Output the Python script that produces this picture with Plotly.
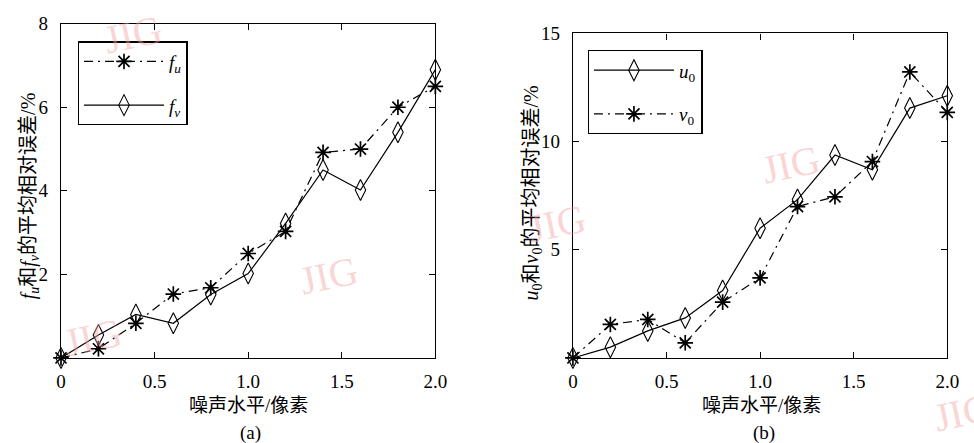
import plotly.graph_objects as go

x = [0, 0.2, 0.4, 0.6, 0.8, 1.0, 1.2, 1.4, 1.6, 1.8, 2.0]
fu = [0, 0.22, 0.83, 1.53, 1.68, 2.5, 3.03, 4.92, 5.0, 6.0, 6.5]
fv = [0, 0.55, 1.04, 0.83, 1.52, 2.02, 3.22, 4.5, 4.02, 5.4, 6.9]
u0 = [0, 0.5, 1.25, 1.85, 3.12, 6.0, 7.32, 9.38, 8.7, 11.55, 12.12]
v0 = [0, 1.55, 1.78, 0.7, 2.58, 3.7, 7.0, 7.45, 9.08, 13.22, 11.35]

xticks = [0, 0.5, 1.0, 1.5, 2.0]
xticktext = ["0", "0.5", "1.0", "1.5", "2.0"]
yticks_a = [0, 2, 4, 6, 8]
yticktext_a = ["", "2", "4", "6", "8"]
yticks_b = [0, 5, 10, 15]
yticktext_b = ["", "5", "10", "15"]

W, H = 974, 443
serif = "Liberation Serif, Times New Roman, serif"
cjk = "Liberation Serif, Noto Sans CJK SC, serif"
DASHDOT = "9px,5px,2px,5px"

fig = go.Figure()

def star_trace(xs, ys, name, xa, ya, legend, grp):
    return go.Scatter(x=xs, y=ys, name=name, xaxis=xa, yaxis=ya, legend=legend,
                      legendgroup=grp, mode="lines+markers", cliponaxis=False,
                      line=dict(color="black", width=1.2, dash=DASHDOT),
                      marker=dict(symbol="asterisk-open", size=13, color="black",
                                  line=dict(color="black", width=1.7)))

def diam_trace(xs, ys, name, xa, ya, legend, grp):
    return go.Scatter(x=xs, y=ys, name=name, xaxis=xa, yaxis=ya, legend=legend,
                      legendgroup=grp, mode="lines+markers", cliponaxis=False,
                      line=dict(color="black", width=1.2),
                      marker=dict(symbol="diamond-tall-open", size=15, color="black",
                                  line=dict(color="black", width=1.1)))

fig.add_trace(star_trace(x, fu, "<i>f<sub>u</sub></i>", "x", "y", "legend", "a1"))
fig.add_trace(diam_trace(x, fv, "<i>f<sub>v</sub></i>", "x", "y", "legend", "a2"))
fig.add_trace(diam_trace(x, u0, "<i>u</i><sub>0</sub>", "x2", "y2", "legend2", "b1"))
fig.add_trace(star_trace(x, v0, "<i>v</i><sub>0</sub>", "x2", "y2", "legend2", "b2"))

def px_x(p):
    return p / W

def px_y(p):
    return (H - p) / H

axis_common = dict(showline=True, linecolor="black", linewidth=1.3, mirror="ticks",
                   ticks="inside", ticklen=6, tickwidth=1.2, tickcolor="black",
                   showgrid=False, zeroline=False,
                   tickfont=dict(family=serif, size=19, color="black"))

legend_common = dict(xanchor="left", yanchor="top", bgcolor="white",
                     bordercolor="black", borderwidth=1.3,
                     font=dict(family=serif, size=19, color="black"),
                     itemwidth=80, traceorder="grouped", tracegroupgap=16)

fig.update_layout(
    width=W, height=H, margin=dict(l=0, r=0, t=0, b=0),
    paper_bgcolor="white", plot_bgcolor="white", showlegend=True,
    xaxis=dict(domain=[px_x(57), px_x(438)], range=[0, 2], anchor="y",
               tickvals=xticks, ticktext=xticktext, ticklabelstandoff=6, **axis_common),
    yaxis=dict(domain=[px_y(356), px_y(14)], range=[0, 8], anchor="x",
               tickvals=yticks_a, ticktext=yticktext_a, ticklabelstandoff=8, **axis_common),
    xaxis2=dict(domain=[px_x(578), px_x(959)], range=[0, 2], anchor="y2",
                tickvals=xticks, ticktext=xticktext, ticklabelstandoff=6, **axis_common),
    yaxis2=dict(domain=[px_y(356), px_y(24)], range=[0, 15], anchor="x2",
                tickvals=yticks_b, ticktext=yticktext_b, ticklabelstandoff=8, **axis_common),
    legend=dict(x=px_x(74), y=px_y(32), **legend_common),
    legend2=dict(x=px_x(593), y=px_y(41), **legend_common),
)

def note(text, px, py, size=19, family=cjk, angle=0, color="black"):
    return dict(text=text, x=px_x(px), y=px_y(py), xref="paper", yref="paper",
                xanchor="center", yanchor="middle", showarrow=False, textangle=angle,
                font=dict(family=family, size=size, color=color))

ann = []
ann.append(note("噪声水平/像素", 248, 405))
ann.append(note("噪声水平/像素", 770, 405))
ann.append(note("(a)", 250, 433, family=serif))
ann.append(note("(b)", 772, 433, family=serif))
ann.append(note("<i>f</i><sub><i>u</i></sub>和<i>f</i><sub><i>v</i></sub>的平均相对误差/%",
                25, 190, size=20, angle=-90))
ann.append(note("<i>u</i><sub>0</sub>和<i>v</i><sub>0</sub>的平均相对误差/%",
                537, 187, size=20, angle=-90))
for (wx, wy) in [(130, 25), (330, 272), (90, 335), (800, 158), (562, 218), (975, 412)]:
    ann.append(note("JIG", wx, wy, size=40, family=serif, angle=-12,
                    color="rgba(245,160,160,0.45)"))
fig.update_layout(annotations=ann)

fig.write_html("out.html", config={"displayModeBar": False},
               post_script="document.body.style.margin='0';document.body.style.overflow='hidden';")
